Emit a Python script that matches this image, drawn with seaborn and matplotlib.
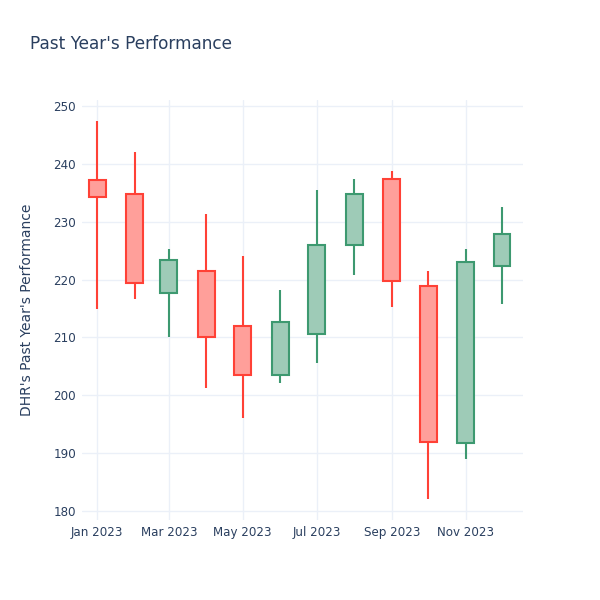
import pandas as pd
import matplotlib
matplotlib.use("Agg")
import matplotlib.pyplot as plt
import matplotlib.dates as mdates
import seaborn as sns

# Monthly OHLC values
months = ['2023-01-01', '2023-02-01', '2023-03-01', '2023-04-01', '2023-05-01', '2023-06-01',
          '2023-07-01', '2023-08-01', '2023-09-01', '2023-10-01', '2023-11-01', '2023-12-01']
open_ = [237.2, 234.8, 217.7, 221.5, 212.0, 203.5, 210.5, 225.9, 237.4, 218.9, 191.8, 222.3]
high = [247.4, 242.0, 225.3, 231.4, 224.1, 218.2, 235.4, 237.3, 238.8, 221.5, 225.2, 232.5]
low = [214.9, 216.6, 210.0, 201.2, 196.1, 202.2, 205.5, 220.7, 215.3, 182.1, 188.9, 215.7]
close = [234.2, 219.4, 223.3, 210.0, 203.5, 212.7, 225.9, 234.7, 219.8, 192.0, 223.1, 227.9]

df = pd.DataFrame({'date': pd.to_datetime(months), 'open': open_, 'high': high,
                   'low': low, 'close': close})
df['up'] = df['close'] >= df['open']
df['top'] = df[['open', 'close']].max(axis=1)
df['bottom'] = df[['open', 'close']].min(axis=1)

sns.set_style("white")
plt.rcParams['font.family'] = ['DejaVu Sans']

text_color = '#2a3f5f'
grid_color = '#ebf0f8'
inc_line, inc_fill = '#3d9970', '#9ecbb7'
dec_line, dec_fill = '#ff4136', '#ff9f9a'

fig = plt.figure(figsize=(6, 6), dpi=100)
ax = fig.add_axes([0.136, 0.133, 0.735, 0.70])

for up, grp in df.groupby('up'):
    line = inc_line if up else dec_line
    fill = inc_fill if up else dec_fill
    # wicks
    ax.vlines(grp['date'], grp['top'], grp['high'], color=line, linewidth=1.5, zorder=2)
    ax.vlines(grp['date'], grp['low'], grp['bottom'], color=line, linewidth=1.5, zorder=2)
    # bodies
    ax.bar(grp['date'], grp['top'] - grp['bottom'], bottom=grp['bottom'], width=14,
           facecolor=fill, edgecolor=line, linewidth=1.5, zorder=3)

ax.set_ylim(178.4, 251.0)
ax.set_xlim(pd.Timestamp('2022-12-19'), pd.Timestamp('2023-12-18'))
ax.set_yticks(range(180, 251, 10))
ax.xaxis.set_major_locator(mdates.MonthLocator(bymonth=[1, 3, 5, 7, 9, 11]))
ax.xaxis.set_major_formatter(mdates.DateFormatter('%b %Y'))

ax.grid(True, color=grid_color, linewidth=1, zorder=0)
ax.set_axisbelow(True)
sns.despine(ax=ax, left=True, bottom=True, top=True, right=True)
ax.tick_params(axis='both', length=0, labelsize=8.6, colors=text_color, pad=4)

ax.set_ylabel("DHR's Past Year's Performance", fontsize=10, color=text_color, labelpad=14)
fig.text(0.05, 0.926, "Past Year's Performance", fontsize=12.2, color=text_color,
         ha='left', va='center')

fig.savefig('out.png', dpi=100, facecolor='white')
